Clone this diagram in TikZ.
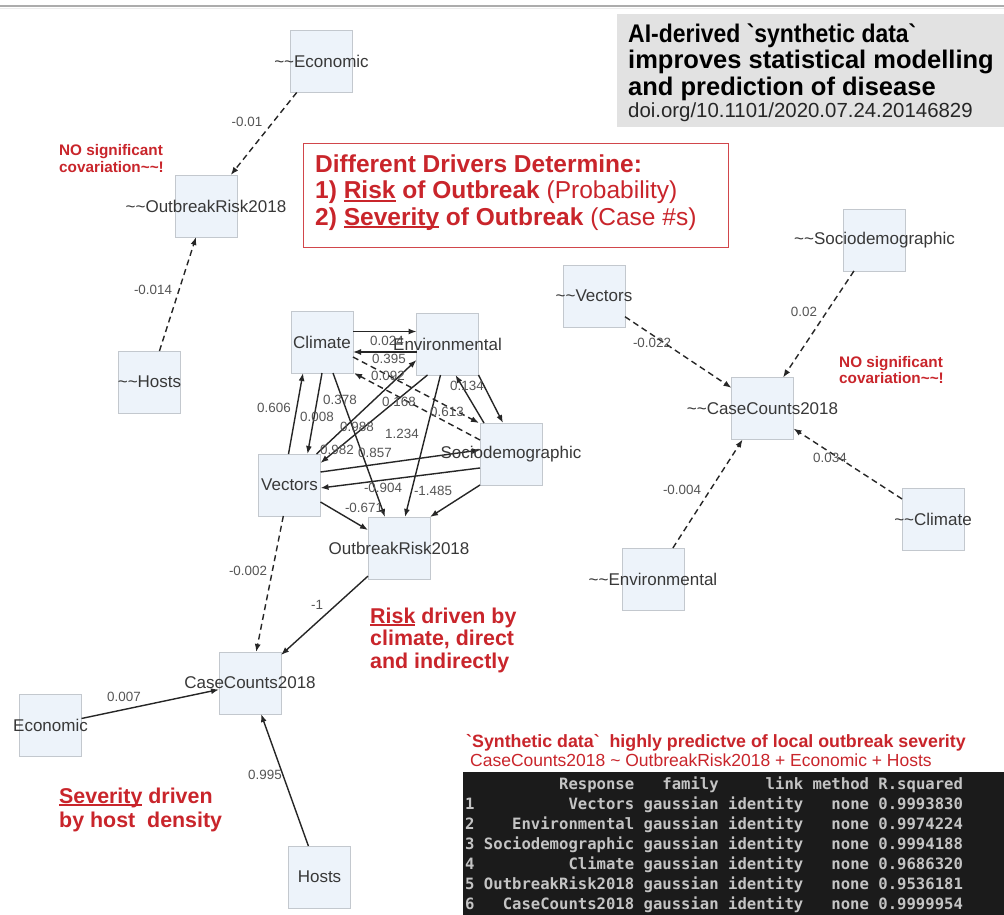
\documentclass[tikz,border=0pt]{standalone}
\usepackage{fontspec}
\setmainfont{Liberation Sans}[Ligatures=TeXOff]
\newfontfamily\termfont{DejaVu Sans Mono}
\usetikzlibrary{arrows.meta,calc}

\definecolor{boxfill}{HTML}{EDF3FA}
\definecolor{boxline}{HTML}{C3C8CE}
\definecolor{edgecol}{HTML}{262626}
\definecolor{lblcol}{HTML}{555555}
\definecolor{notered}{HTML}{C9252B}
\definecolor{titlegray}{HTML}{E2E2E2}
\definecolor{termbg}{HTML}{1B1B1B}
\definecolor{termfg}{HTML}{C4C4C4}

\newcommand\fsz[2]{\fontsize{#1}{#2}\selectfont}
\newcommand\ulx[1]{\setbox0\hbox{#1}\rlap{\rule[-3.2pt]{\wd0}{1.9pt}}\box0\relax}
\newcommand\tld{\textasciitilde\textasciitilde}

\tikzset{
  varbox/.style={draw=boxline, fill=boxfill, line width=0.9pt,
    minimum width=62pt, minimum height=62pt, inner sep=0pt, outer sep=0pt},
  varname/.style={font=\fsz{17}{19}, text=black!78, inner sep=0pt},
  link/.style={draw=edgecol, line width=1.4pt, -{Latex[length=8pt,width=6pt]}},
  weak/.style={link, dash pattern=on 6pt off 4pt},
  coef/.style={font=\fsz{13.4}{15}, text=lblcol, inner sep=0pt},
  note/.style={font=\bfseries\fsz{15.3}{16}, text=notered, anchor=base west, inner sep=0pt},
  remark/.style={font=\bfseries\fsz{21.4}{23}, text=notered, anchor=base west, inner sep=0pt},
  drv/.style={font=\fsz{24.5}{26}, text=notered, anchor=base west, inner sep=0pt},
  ttl/.style={font=\bfseries\fsz{25.5}{27}, text=black, anchor=base west, inner sep=0pt},
  doi/.style={font=\fsz{20.4}{22}, text=black!85, anchor=base west, inner sep=0pt},
  term/.style={font=\termfont\bfseries\fsz{15.6}{20}, text=termfg, anchor=base west, inner sep=0pt},
}

\begin{document}
\begin{tikzpicture}[x=1pt,y=-1pt]
\useasboundingbox (0,0) rectangle (1004,915);
\fill[white] (0,0) rectangle (1004,915);
\draw[gray!65, line width=1.6pt] (0,6) -- (1004,6);
\draw[gray!15, line width=1pt] (0,9) -- (1004,9);

% ---- title panel ----
\fill[titlegray] (617,14) rectangle (1004,127);
\node[ttl] (ttl1) at (628,42.5) {\scalebox{0.9}[1]{AI-derived `synthetic data`}};
\node[ttl] (ttl2) at (628,69) {improves statistical modelling};
\node[ttl] (ttl3) at (628,95.5) {and prediction of disease};
\node[doi] (ttl4) at (628,117.5) {doi.org/10.1101/2020.07.24.20146829};

% ---- drivers box ----
\draw[notered!85, line width=1pt] (303,144) rectangle (728,247);
\node[drv] (drv1) at (315,172) {\textbf{Different Drivers Determine:}};
\node[drv] (drv2) at (315,198.5) {\textbf{1) \ulx{Risk} of Outbreak} (Probability)};
\node[drv] (drv3) at (315,225) {\textbf{2) \ulx{Severity} of Outbreak} (Case \#s)};

% ---- variable boxes ----
% residual model, outbreak risk
\node[varbox] (eco1) at (321.5,61.5) {};
\node[varbox] (ork1) at (206,206) {};
\node[varbox] (hst1) at (149.5,382) {};
% residual model, case counts
\node[varbox] (soc2) at (874.5,240) {};
\node[varbox] (vec2) at (594,296) {};
\node[varbox] (cc2)  at (762.5,408.5) {};
\node[varbox] (cli2) at (933,519) {};
\node[varbox] (env2) at (653,579) {};
% main structural model
\node[varbox] (clim) at (322,342) {};
\node[varbox] (env)  at (447.5,344) {};
\node[varbox] (soc)  at (511,454) {};
\node[varbox] (vec)  at (289.5,485) {};
\node[varbox] (ork)  at (399,548) {};
\node[varbox] (cc)   at (250,683) {};
\node[varbox] (eco3) at (50.5,725) {};
\node[varbox] (hst3) at (319.5,877) {};

% ---- connectors ----
\draw[weak] (eco1) -- (ork1);
\draw[weak] (hst1) -- (ork1);

\draw[weak] (vec2) -- (cc2);
\draw[weak] (soc2) -- (cc2);
\draw[weak] (cli2) -- (cc2);
\draw[weak] (env2) -- (cc2);

\draw[link] ($(clim.east)+(0,-10.5)$) -- ($(env.west)+(0,-12.5)$);
\draw[link] ($(env.west)+(0,8)$) -- ($(clim.east)+(0,10)$);
\draw[weak] ($(clim.east)+(0,15)$) -- ($(soc.north west)+(-1,0)$);
\draw[weak] ($(soc.west)+(0,-14)$) -- ($(clim.south east)+(1,0)$);
\draw[link] ($(vec.north)+(-1,0)$) -- ($(clim.south)+(-19,0)$);
\draw[link] (clim.south) -- ($(vec.north)+(18,0)$);
\draw[link] ($(clim.south)+(11,0)$) -- ($(ork.north)+(-14,0)$);
\draw[link] ($(env.south)+(-20,0)$) -- ($(vec.east)+(0,-22)$);
\draw[link] ($(vec.north east)+(-4,0)$) -- ($(env.west)+(0,16)$);
\draw[link] ($(env.south)+(-7,0)$) -- ($(ork.north)+(6,0)$);
\draw[link] ($(soc.north west)+(4,0)$) -- ($(env.south)+(8,0)$);
\draw[link] (env.south east) -- ($(soc.north)+(-8,0)$);
\draw[link] ($(vec.east)+(0,-13)$) -- ($(soc.west)+(0,-4)$);
\draw[link] ($(soc.west)+(0,14)$) -- ($(vec.east)+(0,3)$);
\draw[link] (soc.south west) -- (ork.north east);
\draw[link] ($(vec.east)+(0,17)$) -- ($(ork.west)+(0,-18)$);

\draw[weak] (vec) -- (cc);
\draw[link] (ork) -- (cc);
\draw[link] (eco3) -- (cc);
\draw[link] (hst3) -- (cc);

% ---- coefficients ----
\node[coef] (k1) at (247,122) {-0.01};
\node[coef] (k2) at (153,290) {-0.014};
\node[coef] (k3) at (652,343) {-0.022};
\node[coef] (k4) at (804,312) {0.02};
\node[coef] (k5) at (830,458) {0.034};
\node[coef] (k6) at (682,490) {-0.004};
\node[coef] (k7) at (387,341) {0.024};
\node[coef] (k8) at (389,359) {0.395};
\node[coef] (k9) at (388,376) {0.092};
\node[coef] (k10) at (399,402) {0.168};
\node[coef] (k11) at (447,412) {0.613};
\node[coef] (k12) at (467,386) {0.134};
\node[coef] (k13) at (274,408) {0.606};
\node[coef] (k14) at (317,417) {0.008};
\node[coef] (k15) at (340,400) {0.378};
\node[coef] (k16) at (357,427) {0.988};
\node[coef] (k17) at (337,450) {0.982};
\node[coef] (k18) at (375,453) {0.857};
\node[coef] (k19) at (402,434) {1.234};
\node[coef] (k20) at (383,488) {-0.904};
\node[coef] (k21) at (433,491) {-1.485};
\node[coef] (k22) at (364,508) {-0.671};
\node[coef] (k23) at (248,571) {-0.002};
\node[coef] (k24) at (317,605) {-1};
\node[coef] (k25) at (124,697) {0.007};
\node[coef] (k26) at (265,775) {0.995};

% ---- variable names ----
\node[varname] (eco1t) at (eco1) {\tld Economic};
\node[varname] (ork1t) at (ork1) {\tld OutbreakRisk2018};
\node[varname] (hst1t) at (hst1) {\tld Hosts};
\node[varname] (soc2t) at (soc2) {\tld Sociodemographic};
\node[varname] (vec2t) at (vec2) {\tld Vectors};
\node[varname] (cc2t)  at (cc2)  {\tld CaseCounts2018};
\node[varname] (cli2t) at (cli2) {\tld Climate};
\node[varname] (env2t) at (env2) {\tld Environmental};
\node[varname] (climt) at (clim) {Climate};
\node[varname] (envt)  at (env)  {Environmental};
\node[varname] (soct)  at (soc)  {Sociodemographic};
\node[varname] (vect)  at (vec)  {Vectors};
\node[varname] (orkt)  at (ork)  {OutbreakRisk2018};
\node[varname] (cct)   at (cc)   {CaseCounts2018};
\node[varname] (eco3t) at (eco3) {Economic};
\node[varname] (hst3t) at (hst3) {Hosts};

% ---- notes ----
\node[note] (nsa1) at (59,156) {NO significant};
\node[note] (nsa2) at (59,172) {covariation\textasciitilde\textasciitilde!};
\node[note] (nsb1) at (839,367) {NO significant};
\node[note] (nsb2) at (839,383) {covariation\textasciitilde\textasciitilde!};
\node[remark] (rk1) at (370,623) {\ulx{Risk} driven by};
\node[remark] (rk2) at (370,645.5) {climate, direct};
\node[remark] (rk3) at (370,668) {and indirectly};
\node[remark] (sv1) at (59,803) {\ulx{Severity} driven};
\node[remark] (sv2) at (59,827) {by host\ \ density};

% ---- model fit summary ----
\node[anchor=base west, inner sep=0pt, text=notered, font=\bfseries\fsz{17.8}{19}] (fit1) at (466,747)
  {`Synthetic data`\ \ highly predictve of local outbreak severity};
\node[anchor=base west, inner sep=0pt, text=notered, font=\fsz{17.5}{19}] (fit2) at (470,766)
  {CaseCounts2018 \textasciitilde{} OutbreakRisk2018 + Economic + Hosts};
\fill[termbg] (463,772) rectangle (1004,915);
\node[term] (r0) at (465,789) {~~~~~~~~~~Response~~~family~~~~~link~method~R.squared};
\node[term] (r1) at (465,809) {1~~~~~~~~~~Vectors~gaussian~identity~~~none~0.9993830};
\node[term] (r2) at (465,829) {2~~~~Environmental~gaussian~identity~~~none~0.9974224};
\node[term] (r3) at (465,849) {3~Sociodemographic~gaussian~identity~~~none~0.9994188};
\node[term] (r4) at (465,869) {4~~~~~~~~~~Climate~gaussian~identity~~~none~0.9686320};
\node[term] (r5) at (465,889) {5~OutbreakRisk2018~gaussian~identity~~~none~0.9536181};
\node[term] (r6) at (465,909) {6~~~CaseCounts2018~gaussian~identity~~~none~0.9999954};
\end{tikzpicture}
\end{document}
